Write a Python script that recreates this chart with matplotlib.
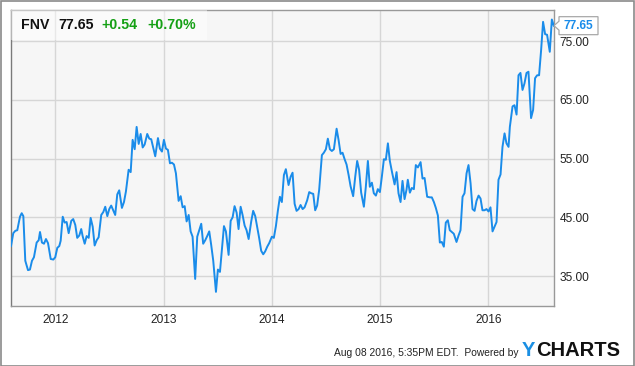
import matplotlib
matplotlib.use("Agg")
import matplotlib.pyplot as plt
from matplotlib.patches import Rectangle, Polygon
from matplotlib.transforms import IdentityTransform

plt.rcParams['font.family'] = ['Liberation Sans', 'DejaVu Sans']

ticker = "FNV"
last_price = "77.65"
change = "+0.54"
change_pct = "+0.70%"
footer_text = "Aug 08 2016, 5:35PM EDT.  Powered by"
year_ticks = [2012, 2013, 2014, 2015, 2016]
year_labels = ["2012", "2013", "2014", "2015", "2016"]
price_ticks = [35, 45, 55, 65, 75]
price_labels = ["35.00", "45.00", "55.00", "65.00", "75.00"]

# decimal-year dates (weekly-ish) and prices
dates = [
    2011.589, 2011.610, 2011.629, 2011.647, 2011.672, 2011.688, 2011.703, 2011.721, 2011.746, 2011.764,
    2011.783, 2011.801, 2011.826, 2011.845, 2011.857, 2011.875, 2011.894, 2011.912, 2011.931, 2011.956,
    2011.980, 2011.998, 2012.017, 2012.035, 2012.048, 2012.067, 2012.085, 2012.103, 2012.122, 2012.146,
    2012.164, 2012.183, 2012.201, 2012.220, 2012.238, 2012.251, 2012.270, 2012.288, 2012.307, 2012.325,
    2012.344, 2012.362, 2012.381, 2012.399, 2012.423, 2012.442, 2012.460, 2012.479, 2012.497, 2012.515,
    2012.534, 2012.552, 2012.571, 2012.589, 2012.614, 2012.633, 2012.651, 2012.676, 2012.695, 2012.713,
    2012.732, 2012.750, 2012.769, 2012.787, 2012.806, 2012.824, 2012.848, 2012.867, 2012.885, 2012.903,
    2012.922, 2012.947, 2012.965, 2012.984, 2013.002, 2013.021, 2013.039, 2013.058, 2013.076, 2013.095,
    2013.113, 2013.138, 2013.157, 2013.175, 2013.194, 2013.212, 2013.231, 2013.249, 2013.267, 2013.291,
    2013.310, 2013.328, 2013.347, 2013.365, 2013.384, 2013.402, 2013.421, 2013.439, 2013.458, 2013.483,
    2013.501, 2013.520, 2013.538, 2013.557, 2013.575, 2013.600, 2013.619, 2013.637, 2013.655, 2013.674,
    2013.692, 2013.711, 2013.729, 2013.748, 2013.766, 2013.785, 2013.809, 2013.827, 2013.846, 2013.864,
    2013.883, 2013.901, 2013.920, 2013.938, 2013.957, 2013.975, 2014.000, 2014.018, 2014.037, 2014.055,
    2014.074, 2014.092, 2014.111, 2014.129, 2014.154, 2014.173, 2014.191, 2014.210, 2014.228, 2014.247,
    2014.265, 2014.284, 2014.302, 2014.326, 2014.345, 2014.363, 2014.382, 2014.400, 2014.418, 2014.437,
    2014.462, 2014.480, 2014.499, 2014.517, 2014.536, 2014.554, 2014.573, 2014.598, 2014.616, 2014.635,
    2014.653, 2014.672, 2014.690, 2014.709, 2014.727, 2014.751, 2014.770, 2014.788, 2014.806, 2014.825,
    2014.850, 2014.868, 2014.887, 2014.905, 2014.924, 2014.942, 2014.961, 2014.979, 2014.998, 2015.016,
    2015.035, 2015.053, 2015.072, 2015.090, 2015.109, 2015.134, 2015.152, 2015.170, 2015.189, 2015.207,
    2015.226, 2015.244, 2015.256, 2015.275, 2015.293, 2015.312, 2015.330, 2015.349, 2015.374, 2015.392,
    2015.411, 2015.435, 2015.460, 2015.478, 2015.497, 2015.515, 2015.534, 2015.552, 2015.570, 2015.589,
    2015.607, 2015.626, 2015.644, 2015.663, 2015.681, 2015.706, 2015.725, 2015.743, 2015.762, 2015.780,
    2015.799, 2015.817, 2015.836, 2015.854, 2015.873, 2015.891, 2015.910, 2015.928, 2015.946, 2015.965,
    2015.983, 2016.002, 2016.020, 2016.039, 2016.057, 2016.076, 2016.094, 2016.113, 2016.131, 2016.150,
    2016.168, 2016.187, 2016.199, 2016.224, 2016.242, 2016.261, 2016.279, 2016.297, 2016.316, 2016.334,
    2016.353, 2016.371, 2016.395, 2016.414, 2016.432, 2016.451, 2016.469, 2016.488, 2016.506, 2016.525,
    2016.543, 2016.568, 2016.587, 2016.605,
]
prices = [
    40.1, 42.3, 42.7, 42.8, 45.1, 45.7, 45.2, 37.6, 36.0, 36.1,
    37.6, 38.2, 40.7, 41.1, 42.5, 40.7, 40.5, 41.3, 40.6, 37.9,
    37.8, 38.2, 39.8, 40.1, 41.0, 45.1, 44.1, 44.2, 42.3, 44.4,
    44.7, 43.7, 41.5, 41.9, 43.0, 41.8, 40.5, 41.8, 41.5, 44.9,
    43.4, 40.2, 41.1, 41.6, 45.4, 45.9, 46.8, 45.2, 46.4, 47.0,
    46.2, 45.4, 48.9, 49.6, 46.6, 47.6, 49.4, 53.1, 52.7, 58.2,
    56.6, 60.4, 57.5, 59.2, 56.9, 57.4, 59.2, 58.4, 58.3, 56.9,
    55.4, 58.5, 56.7, 56.2, 58.2, 56.7, 56.5, 54.2, 54.3, 54.0,
    52.5, 47.8, 48.6, 46.7, 46.9, 44.3, 45.4, 42.6, 41.7, 34.5,
    41.7, 42.8, 43.9, 40.5, 41.1, 41.8, 42.6, 40.3, 37.6, 32.3,
    36.1, 35.7, 39.4, 43.5, 42.6, 38.6, 44.4, 45.0, 46.9, 45.8,
    43.0, 46.8, 45.4, 43.6, 42.8, 41.3, 44.3, 46.1, 45.2, 43.4,
    41.4, 39.3, 38.7, 39.2, 40.0, 40.6, 41.7, 41.5, 43.5, 46.1,
    48.5, 47.6, 52.2, 53.2, 50.5, 51.9, 52.6, 47.3, 46.1, 46.4,
    47.1, 46.4, 46.7, 47.9, 49.3, 49.1, 49.0, 46.2, 47.0, 49.7,
    55.6, 56.0, 56.6, 58.4, 56.6, 56.3, 56.6, 60.1, 58.2, 55.8,
    56.0, 54.9, 54.0, 52.2, 50.3, 48.6, 51.9, 54.6, 53.1, 49.2,
    46.8, 50.2, 54.6, 50.2, 50.9, 49.1, 48.7, 49.8, 49.3, 51.9,
    54.9, 54.8, 57.6, 54.6, 52.8, 50.6, 52.7, 49.1, 47.6, 51.2,
    48.1, 49.7, 51.4, 49.2, 50.0, 49.8, 53.9, 53.5, 54.4, 51.6,
    51.7, 48.5, 48.4, 48.4, 47.6, 46.6, 45.3, 40.7, 40.8, 40.0,
    44.1, 44.5, 42.8, 42.5, 42.2, 40.8, 41.9, 42.8, 48.5, 49.1,
    52.5, 53.9, 50.8, 46.4, 46.1, 47.8, 48.7, 48.2, 46.2, 46.2,
    46.4, 46.0, 46.7, 42.6, 43.4, 44.2, 51.4, 52.3, 57.0, 59.3,
    57.6, 57.0, 60.4, 63.9, 64.1, 62.5, 69.2, 69.6, 66.7, 67.8,
    69.6, 69.8, 61.9, 63.3, 68.7, 69.2, 69.2, 73.5, 78.3, 76.2,
    76.1, 73.2, 78.7, 77.65,
]

W, H = 635, 366
fig = plt.figure(figsize=(W / 100, H / 100), dpi=100, facecolor='white')

# outer frame
fig.patches.append(Rectangle((0.5 / W, 0.5 / H), 1 - 1.5 / W, 1 - 1.5 / H, transform=fig.transFigure,
                             fill=False, edgecolor='#8a8a8a', linewidth=1.2))

ax = fig.add_axes([11 / W, 1 - 306 / H, (554 - 11) / W, (306 - 10) / H])
ax.set_facecolor('#f6f6f6')
line_color = '#1a8cea'
ax.plot(dates, prices, color=line_color, linewidth=1.4, solid_joinstyle='round', zorder=3)

ax.set_xlim(2011.589, 2016.607)
ax.set_ylim(29.89, 80.32)
ax.set_xticks(year_ticks)
ax.set_xticklabels(year_labels)
ax.set_yticks(price_ticks)
ax.set_yticklabels(price_labels)
ax.yaxis.tick_right()
ax.tick_params(axis='both', length=0, labelsize=8.6, labelcolor='#222222')
ax.tick_params(axis='y', pad=4)
ax.tick_params(axis='x', pad=6)
ax.grid(True, color='#d6d6d6', linewidth=1.0, zorder=0)
ax.set_axisbelow(True)
for side, sp in ax.spines.items():
    sp.set_color('#999999')
    sp.set_linewidth(1.0)
ax.spines['left'].set_color('#7a7a7a')

# header box
ax.add_patch(Rectangle((0, (306 - 40) / 296), (207 - 11) / 543, 30 / 296, transform=ax.transAxes,
                       facecolor='white', alpha=0.45, edgecolor='none', zorder=4))
hy = 1 - 28.6 / H
fig.text(21 / W, hy, ticker, fontsize=10.2, fontweight='bold', color='#111111', va='baseline')
fig.text(58 / W, hy, last_price, fontsize=10.2, fontweight='bold', color='#111111', va='baseline')
fig.text(101 / W, hy, change, fontsize=10.2, fontweight='bold', color='#15a015', va='baseline')
fig.text(147 / W, hy, change_pct, fontsize=10.2, fontweight='bold', color='#15a015', va='baseline')

# last value label: box with a small left pointer, placed at the last value
x_end, y_end = ax.transData.transform((dates[-1], float(last_price)))
x_edge = ax.transAxes.transform((1.0, 0.5))[0]
bl = x_edge + 5
br = x_edge + 44
hh = 9
tag = Polygon([(bl, y_end + hh), (br, y_end + hh), (br, y_end - hh), (bl, y_end - hh),
               (bl, y_end - 4.5), (x_edge, y_end), (bl, y_end + 4.5)], closed=True,
              transform=IdentityTransform(), facecolor='white', edgecolor='#a8a8a8', linewidth=0.9,
              clip_on=False, zorder=6)
fig.patches.append(tag)
fig.text((bl + br) / 2 / W, y_end / H, last_price, fontsize=8.6, fontweight='bold', color=line_color,
         ha='center', va='center', zorder=7)

# footer
fig.text(519 / W, 1 - 356.5 / H, footer_text, fontsize=7.4, color='#222222', ha='right', va='baseline')
fig.text(522 / W, 1 - 356.5 / H, "Y", fontsize=14.5, fontweight='bold', color='#1a8fe3', ha='left', va='baseline')
fig.text(536 / W, 1 - 356.5 / H, "CHARTS", fontsize=14.5, fontweight='bold', color='#111111', ha='left', va='baseline')

fig.savefig('out.png', dpi=100, facecolor='white')
